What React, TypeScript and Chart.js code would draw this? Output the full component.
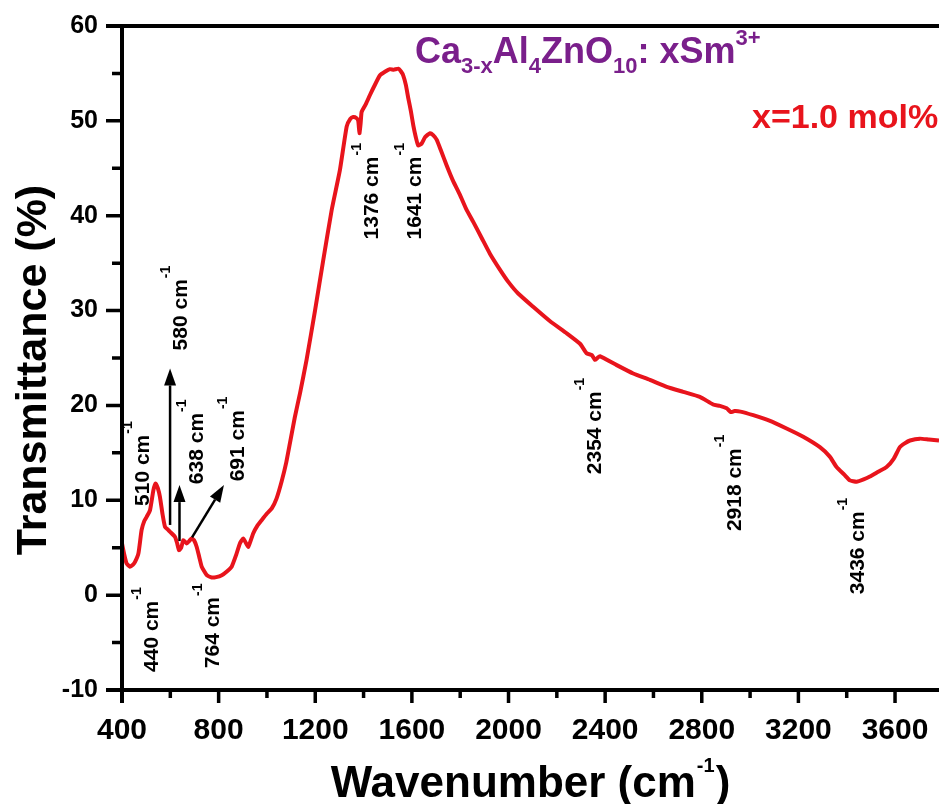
import React, { useEffect, useRef } from "react";
import { Chart, registerables } from "chart.js";

Chart.register(...registerables);

// ---------- data ----------
const wavenumbers = [
  400, 410, 419, 433, 445, 454, 468, 481, 492, 502, 516, 530, 539, 548, 557, 568, 578, 590, 599, 619,
  628, 636, 645, 654, 668, 678, 688, 698, 709, 720, 730, 751, 771, 790, 813, 834, 854, 872, 888, 902,
  913, 923, 943, 960, 978, 1000, 1020, 1040, 1061, 1080, 1095, 1115, 1137, 1164, 1199, 1233, 1268, 1302, 1330, 1345,
  1357, 1370, 1378, 1383, 1388, 1392, 1410, 1426, 1445, 1468, 1490, 1509, 1525, 1544, 1555, 1564, 1575, 1585, 1596, 1606,
  1616, 1626, 1640, 1655, 1675, 1688, 1703, 1720, 1744, 1770, 1799, 1825, 1854, 1890, 1923, 1965, 2000, 2040, 2102, 2171,
  2241, 2296, 2323, 2345, 2358, 2368, 2378, 2448, 2516, 2585, 2655, 2723, 2792, 2847, 2875, 2903, 2920, 2935, 2960, 3013,
  3080, 3151, 3220, 3289, 3330, 3358, 3390, 3413, 3441, 3470, 3496, 3530, 3565, 3595, 3620, 3640, 3662, 3703, 3740, 3782,
];
const transmittance = [
  5.45, 4.2, 3.34, 3.0, 3.2, 3.5, 4.4, 6.85, 7.8, 8.25, 8.96, 11.07, 11.77, 11.3, 10.36, 8.5, 7.2, 6.9, 6.67, 6.15,
  5.5, 4.74, 5.0, 5.8, 5.45, 5.7, 5.98, 5.8, 5.1, 4.0, 3.0, 2.1, 1.86, 1.9, 2.1, 2.5, 3.0, 4.2, 5.45, 5.98,
  5.5, 5.1, 6.5, 7.3, 7.9, 8.6, 9.14, 10.2, 12.0, 14.0, 16.0, 18.7, 21.3, 24.8, 30.0, 35.3, 40.6, 44.8, 49.4, 50.2,
  50.4, 50.3, 50.0, 48.7, 49.8, 50.95, 51.8, 52.7, 53.7, 54.8, 55.2, 55.45, 55.4, 55.5, 55.2, 54.8, 53.8, 52.4, 51.0, 49.5,
  48.3, 47.4, 47.6, 48.3, 48.7, 48.5, 48.0, 46.9, 45.3, 43.7, 42.2, 40.7, 39.35, 37.6, 36.0, 34.3, 33.0, 31.8, 30.4, 28.9,
  27.6, 26.5, 25.5, 25.3, 24.8, 25.0, 25.2, 24.25, 23.37, 22.7, 21.96, 21.43, 20.9, 20.1, 19.95, 19.7, 19.3, 19.4, 19.35, 18.97,
  18.4, 17.57, 16.7, 15.6, 14.6, 13.5, 12.7, 12.1, 11.95, 12.2, 12.5, 13.0, 13.5, 14.4, 15.6, 16.0, 16.3, 16.5, 16.4, 16.3,
];

const xMin = 400;
const xMax = 3782;
const yMin = -10;
const yMax = 60;
// tick positions (minor + major); labels only on the majors
const xTickValues = [400, 600, 800, 1000, 1200, 1400, 1600, 1800, 2000, 2200, 2400, 2600, 2800, 3000, 3200, 3400, 3600];
const xTickLabels = ["400", "800", "1200", "1600", "2000", "2400", "2800", "3200", "3600"];
const yTickValues = [-10, -5, 0, 5, 10, 15, 20, 25, 30, 35, 40, 45, 50, 55, 60];
const yTickLabels = ["-10", "0", "10", "20", "30", "40", "50", "60"];

// band labels (text) and where they sit (data units: wavenumber, transmittance)
const bandNames = ["440", "764", "510", "580", "638", "691", "1376", "1641", "2354", "2918", "3436"];
const bandLabelX = [524, 777, 487, 644, 710, 880, 1435, 1613, 2358, 2937, 3446];
const bandLabelY = [-8.1, -7.7, 9.4, 25.8, 11.7, 12.0, 37.5, 37.5, 12.75, 6.75, 0.1];

// arrows (data units)
const arrowFromX = [599, 638, 690];
const arrowFromY = [7.4, 5.7, 6.1];
const arrowToX = [599, 638, 822];
const arrowToY = [23.9, 11.6, 11.6];

const FONT = "'Liberation Sans', Arial, sans-serif";
const RED = "#e8141c";
const PURPLE = "#7a1f8b";

function drawArrow(ctx: CanvasRenderingContext2D, x1: number, y1: number, x2: number, y2: number) {
  const ang = Math.atan2(y2 - y1, x2 - x1);
  const headLen = 17;
  const headW = 6;
  const bx = x2 - headLen * Math.cos(ang);
  const by = y2 - headLen * Math.sin(ang);
  ctx.save();
  ctx.strokeStyle = "#000";
  ctx.fillStyle = "#000";
  ctx.lineWidth = 2.5;
  ctx.beginPath();
  ctx.moveTo(x1, y1);
  ctx.lineTo(bx, by);
  ctx.stroke();
  ctx.beginPath();
  ctx.moveTo(x2, y2);
  ctx.lineTo(bx + headW * Math.sin(ang), by - headW * Math.cos(ang));
  ctx.lineTo(bx - headW * Math.sin(ang), by + headW * Math.cos(ang));
  ctx.closePath();
  ctx.fill();
  ctx.restore();
}

const overlayPlugin = {
  id: "overlay",
  afterDraw(chart: any) {
    const ctx: CanvasRenderingContext2D = chart.ctx;
    const xs = chart.scales.x;
    const ys = chart.scales.y;
    const area = chart.chartArea;
    ctx.save();

    // axes lines
    ctx.strokeStyle = "#000";
    ctx.lineWidth = 4;
    ctx.lineCap = "butt";
    ctx.beginPath();
    ctx.moveTo(area.left - 16, area.top);
    ctx.lineTo(area.right, area.top);
    ctx.moveTo(area.left, area.top);
    ctx.lineTo(area.left, area.bottom + 13);
    ctx.moveTo(area.left - 16, area.bottom);
    ctx.lineTo(area.right, area.bottom);
    ctx.stroke();

    // tick marks (major = labelled)
    ctx.lineWidth = 3.5;
    ctx.beginPath();
    xs.ticks.forEach((t: any) => {
      const px = xs.getPixelForValue(t.value);
      const len = xTickLabels.includes(String(t.value)) ? 13 : 8;
      ctx.moveTo(px, area.bottom);
      ctx.lineTo(px, area.bottom + len);
    });
    ys.ticks.forEach((t: any) => {
      const py = ys.getPixelForValue(t.value);
      const len = yTickLabels.includes(String(t.value)) ? 16 : 10;
      ctx.moveTo(area.left, py);
      ctx.lineTo(area.left - len, py);
    });
    ctx.stroke();

    // band labels, rotated
    ctx.fillStyle = "#000";
    bandNames.forEach((name, i) => {
      const px = xs.getPixelForValue(bandLabelX[i]);
      const py = ys.getPixelForValue(bandLabelY[i]);
      ctx.save();
      ctx.translate(px, py);
      ctx.rotate(-Math.PI / 2);
      ctx.textAlign = "left";
      ctx.textBaseline = "middle";
      ctx.font = `bold 21px ${FONT}`;
      const main = `${name} cm`;
      ctx.fillText(main, 0, 0);
      const w = ctx.measureText(main).width;
      ctx.font = `bold 14px ${FONT}`;
      ctx.fillText("-1", w + 1, -15);
      ctx.restore();
    });

    // arrows
    arrowFromX.forEach((_, i) => {
      drawArrow(
        ctx,
        xs.getPixelForValue(arrowFromX[i]),
        ys.getPixelForValue(arrowFromY[i]),
        xs.getPixelForValue(arrowToX[i]),
        ys.getPixelForValue(arrowToY[i])
      );
    });

    // x axis title
    ctx.fillStyle = "#000";
    ctx.textBaseline = "alphabetic";
    ctx.textAlign = "left";
    const big = `bold 44px ${FONT}`;
    const sup = `bold 20px ${FONT}`;
    ctx.font = big;
    const p1 = "Wavenumber (cm";
    const w1 = ctx.measureText(p1).width;
    const w3 = ctx.measureText(")").width;
    ctx.font = sup;
    const w2 = ctx.measureText("-1").width;
    const total = w1 + w2 + w3 + 2;
    let tx = (area.left + area.right) / 2 - total / 2;
    const tb = 797;
    ctx.font = big;
    ctx.fillText(p1, tx, tb);
    tx += w1 + 1;
    ctx.font = sup;
    ctx.fillText("-1", tx, tb - 25);
    tx += w2 + 1;
    ctx.font = big;
    ctx.fillText(")", tx, tb);

    // y axis title
    ctx.save();
    ctx.translate(46, 370);
    ctx.rotate(-Math.PI / 2);
    ctx.textAlign = "center";
    ctx.textBaseline = "alphabetic";
    ctx.font = `bold 43px ${FONT}`;
    ctx.fillText("Transmittance (%)", 0, 0);
    ctx.restore();

    // formula
    const parts: [string, number][] = [
      ["Ca", 0], ["3-x", 1], ["Al", 0], ["4", 1], ["ZnO", 0], ["10", 1], [": xSm", 0], ["3+", 2],
    ];
    let fx = 415;
    const fb = 63;
    ctx.fillStyle = PURPLE;
    ctx.textAlign = "left";
    parts.forEach(([s, kind]) => {
      if (kind === 0) {
        ctx.font = `bold 36px ${FONT}`;
        ctx.fillText(s, fx, fb);
      } else {
        ctx.font = `bold 22px ${FONT}`;
        ctx.fillText(s, fx, kind === 1 ? fb + 10 : fb - 18);
      }
      fx += ctx.measureText(s).width;
    });

    // concentration
    ctx.fillStyle = RED;
    ctx.font = `bold 34px ${FONT}`;
    ctx.fillText("x=1.0 mol%", 752, 128);

    ctx.restore();
  },
};

export default function App() {
  const canvasRef = useRef<HTMLCanvasElement | null>(null);

  useEffect(() => {
    if (!canvasRef.current) return;
    const points = wavenumbers.map((w, i) => ({ x: w, y: transmittance[i] }));
    const chart = new Chart(canvasRef.current, {
      type: "line",
      data: {
        datasets: [
          {
            data: points,
            borderColor: RED,
            borderWidth: 4,
            pointRadius: 0,
            tension: 0.15,
            fill: false,
          },
        ],
      },
      options: {
        animation: false,
        responsive: true,
        maintainAspectRatio: false,
        layout: { padding: { top: 26, left: 0, right: 0, bottom: 0 } },
        plugins: { legend: { display: false }, tooltip: { enabled: false } },
        scales: {
          x: {
            type: "linear",
            min: xMin,
            max: xMax,
            grid: { display: false, drawTicks: false },
            border: { display: false },
            afterBuildTicks: (s: any) => {
              s.ticks = xTickValues.map((v) => ({ value: v }));
            },
            ticks: {
              autoSkip: false,
              maxRotation: 0,
              minRotation: 0,
              padding: 23,
              color: "#000",
              font: { family: FONT, size: 30, weight: "bold" },
              callback: (v: any) => (xTickLabels.includes(String(v)) ? String(v) : ""),
            },
            afterFit: (s: any) => {
              s.height = 114;
              s.paddingLeft = 0;
              s.paddingRight = 0;
            },
          },
          y: {
            type: "linear",
            min: yMin,
            max: yMax,
            grid: { display: false, drawTicks: false },
            border: { display: false },
            afterBuildTicks: (s: any) => {
              s.ticks = yTickValues.map((v) => ({ value: v }));
            },
            ticks: {
              autoSkip: false,
              padding: 24,
              color: "#000",
              font: { family: FONT, size: 25, weight: "bold" },
              callback: (v: any) => (yTickLabels.includes(String(v)) ? String(v) : ""),
            },
            afterFit: (s: any) => {
              s.width = 122;
              s.paddingTop = 0;
              s.paddingBottom = 0;
            },
          },
        },
      } as any,
      plugins: [overlayPlugin],
    });
    return () => chart.destroy();
  }, []);

  return (
    <div style={{ position: "absolute", left: 0, top: 0, width: 939, height: 804, background: "#fff" }}>
      <canvas ref={canvasRef} />
    </div>
  );
}
